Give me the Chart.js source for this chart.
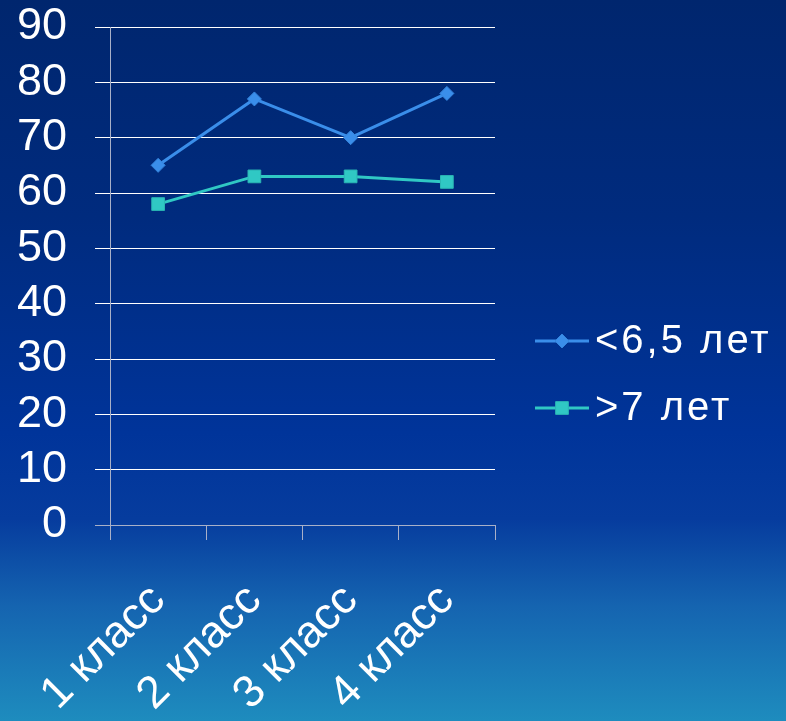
<!DOCTYPE html>
<html>
<head>
<meta charset="utf-8">
<script src="https://cdn.jsdelivr.net/npm/chart.js@4/dist/chart.umd.min.js"></script>
<style>
  html, body { margin: 0; padding: 0; }
  body {
    width: 786px; height: 721px; overflow: hidden;
    background: linear-gradient(to bottom, #00266e 0%, #002b7e 30%, #00349a 60%, #063c9e 72%, #1564b0 84%, #1e8cbe 100%);
  }
  #wrap { position: absolute; left: 0; top: 0; width: 786px; height: 721px; }
</style>
</head>
<body>
<div id="wrap"><canvas id="chart"></canvas></div>
<script>
// Grades and success rates for the two age groups
const categories = ['1 класс', '2 класс', '3 класс', '4 класс'];
const seriesNames = ['<6,5 лет', '>7 лет'];
const youngerValues = [65, 77, 70, 78];
const olderValues = [58, 63, 63, 62];
const yMin = 0, yMax = 90, yStep = 10;

const FONT = '"Liberation Sans", Arial, sans-serif';
const BLUE = '#3a8eea';
const TEAL = '#30c8c4';

// Legend drawn as line + marker + text, to the right of the plot
const lineLegend = {
  id: 'lineLegend',
  afterDraw(chart) {
    const ctx = chart.ctx;
    const x0 = 535, x1 = 589, textX = 595;
    const rows = [341, 408];
    chart.data.datasets.forEach((ds, i) => {
      const y = rows[i];
      ctx.save();
      ctx.strokeStyle = ds.borderColor;
      ctx.lineWidth = 3;
      ctx.beginPath();
      ctx.moveTo(x0, y);
      ctx.lineTo(x1, y);
      ctx.stroke();
      ctx.fillStyle = ds.pointBackgroundColor;
      ctx.strokeStyle = ds.pointBorderColor;
      ctx.lineWidth = 1;
      Chart.helpers.drawPoint(ctx, { pointStyle: ds.pointStyle, radius: ds.pointRadius, rotation: 0, borderWidth: 1 }, (x0 + x1) / 2, y);
      ctx.fillStyle = '#ffffff';
      ctx.font = '40px ' + FONT;
      ctx.letterSpacing = '3px';
      ctx.textBaseline = 'middle';
      ctx.textAlign = 'left';
      ctx.fillText(ds.label, textX, y + 1);
      ctx.restore();
    });
  }
};

new Chart(document.getElementById('chart'), {
  type: 'line',
  data: {
    labels: categories,
    datasets: [
      {
        label: seriesNames[0],
        data: youngerValues,
        borderColor: BLUE,
        borderWidth: 3,
        pointStyle: 'rectRot',
        pointRadius: 7,
        pointBackgroundColor: BLUE,
        pointBorderColor: '#3484dc',
        pointBorderWidth: 1,
        tension: 0
      },
      {
        label: seriesNames[1],
        data: olderValues,
        borderColor: TEAL,
        borderWidth: 3,
        pointStyle: 'rect',
        pointRadius: 9,
        pointBackgroundColor: TEAL,
        pointBorderColor: '#2ab6b4',
        pointBorderWidth: 1,
        tension: 0
      }
    ]
  },
  options: {
    responsive: true,
    maintainAspectRatio: false,
    animation: false,
    devicePixelRatio: 1,
    layout: { padding: { top: 0, right: 291, left: 0, bottom: 0 } },
    plugins: {
      legend: { display: false },
      tooltip: { enabled: false }
    },
    scales: {
      x: {
        offset: true,
        afterFit(scale) {
          scale.height = 196;
          scale.paddingLeft = 0;
          scale.paddingRight = 0;
        },
        grid: {
          offset: true,
          drawOnChartArea: false,
          tickLength: 15,
          color: '#a8b0c8',
          lineWidth: 1
        },
        border: { color: '#a8b0c8', width: 1 },
        ticks: {
          color: '#ffffff',
          font: { family: FONT, size: 45 },
          minRotation: 45,
          maxRotation: 45,
          padding: 34,
          autoSkip: false
        }
      },
      y: {
        min: yMin,
        max: yMax,
        afterFit(scale) {
          scale.width = 110;
          scale.paddingTop = 27;
          scale.paddingBottom = 0;
        },
        grid: {
          tickLength: 15,
          color: (c) => (c.tick && c.tick.value === 0 ? '#a8b0c8' : '#ffffff'),
          lineWidth: 1
        },
        border: { color: '#a8b0c8', width: 1 },
        ticks: {
          stepSize: yStep,
          autoSkip: false,
          color: '#ffffff',
          font: { family: FONT, size: 45 },
          padding: 28
        }
      }
    }
  },
  plugins: [lineLegend]
});
</script>
</body>
</html>
